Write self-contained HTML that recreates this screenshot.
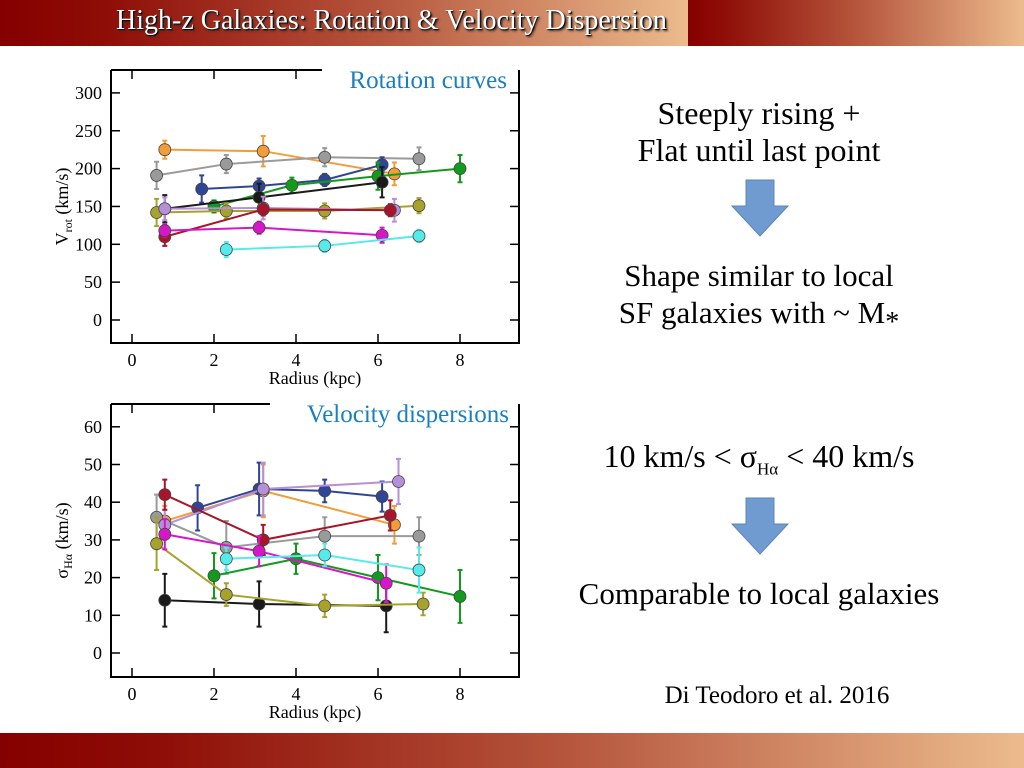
<!DOCTYPE html>
<html><head><meta charset="utf-8"><style>
body{margin:0;width:1024px;height:768px;overflow:hidden;background:#fff;font-family:"Liberation Serif",serif;position:relative}
.hdr{position:absolute;top:0;height:46px}
.t{position:absolute;color:#000;font-size:32px;text-align:center;line-height:37px}
</style></head><body>
<div class="hdr" style="left:0;width:688px;background:linear-gradient(90deg,#850000 0%,#8e0d06 15%,#b5553c 55%,#ecbb8d 100%)"></div>
<div class="hdr" style="left:688px;width:336px;background:linear-gradient(90deg,#850000 0%,#8e0d06 10%,#b5553c 50%,#ecbb8d 100%)"></div>
<div style="position:absolute;left:116px;top:5px;font-size:28px;color:#fff;text-shadow:1px 1px 1px #000,2px 2px 2px #333">High-z Galaxies: Rotation &amp; Velocity Dispersion</div>
<div style="position:absolute;left:0;top:733px;width:1024px;height:35px;background:linear-gradient(90deg,#850000 0%,#8e0d06 15%,#b5553c 55%,#ecbb8d 100%)"></div>

<div class="t" style="left:554px;top:95px;width:410px">Steeply rising +<br>Flat until last point</div>
<div class="t" style="left:554px;top:257px;width:410px;font-size:31px">Shape similar to local<br>SF galaxies with ~ M<sub style="font-size:28px;vertical-align:-8px;line-height:0">*</sub></div>
<div class="t" style="left:554px;top:438px;width:410px;font-size:32px">10 km/s &lt; σ<sub style="font-size:17px;line-height:0">Hα</sub> &lt; 40 km/s</div>
<div class="t" style="left:554px;top:575px;width:410px;font-size:31px">Comparable to local galaxies</div>
<div class="t" style="left:572px;top:677px;width:410px;font-size:25px">Di Teodoro et al. 2016</div>

<svg width="1024" height="768" style="position:absolute;left:0;top:0" xmlns="http://www.w3.org/2000/svg">
<polygon points="746,180 774,180 774,206 788,206 760,236 732,206 746,206" fill="#6f9bd1" stroke="#5a86bd"/>
<polygon points="746,498 774,498 774,524 788,524 760,554 732,524 746,524" fill="#6f9bd1" stroke="#5a86bd"/>
<g id="top"></g>
<g id="bot"></g>
</svg>
<script>
const colors=['#f29d38','#9a9a9a','#2f4595','#139a1c','#1a1a1a','#a6a22c','#b58fd8','#a8152a','#d617c8','#55ebeb'];
const names=['orange','gray','navy','green','black','olive','purple','darkred','magenta','cyan'];
// Rotation curves: radius (kpc) and Vrot (km/s)
const rotR=[[0.8,3.2,6.4],[0.6,2.3,4.7,7.0],[1.7,3.1,4.7,6.1],[2.0,3.9,6.0,8.0],[0.8,3.1,6.1],[0.6,2.3,4.7,7.0],[0.8,3.2,6.4],[0.8,3.2,6.3],[0.8,3.1,6.1],[2.3,4.7,7.0]];
const rotV=[[225,223,193],[191,206,215,213],[173,177,185,205],[150,178,190,200],[147,162,182],[142,144,144,151],[147,148,145],[110,146,145],[118,122,112],[93,98,111]];
const rotE=[[12,20,15],[18,12,12,15],[18,10,8,10],[8,10,18,18],[18,18,20],[18,10,10,10],[15,15,15],[12,8,8],[8,8,10],[10,8,8]];
// Velocity dispersions
const dispR=[[0.8,3.2,6.4],[0.6,2.3,4.7,7.0],[1.6,3.1,4.7,6.1],[2.0,4.0,6.0,8.0],[0.8,3.1,6.2],[0.6,2.3,4.7,7.1],[0.8,3.2,6.5],[0.8,3.2,6.3],[0.8,3.1,6.2],[2.3,4.7,7.0]];
const dispS=[[35,43,34],[36,28,31,31],[38.5,43.5,43,41.5],[20.5,25,20,15],[14,13,12.5],[29,15.5,12.5,13],[34,43.5,45.5],[42,30,36.5],[31.5,27,18.5],[25,26,22]];
const dispE=[[4,7,5],[6,7,5,5],[6,7,3,4],[6,4,6,7],[7,6,7],[7,3,3,3],[4,7,6],[4,4,4],[4,4,5],[3,3,6]];
const xTicks=[0,2,4,6,8];
const rotTicks=[0,50,100,150,200,250,300];
const dispTicks=[0,10,20,30,40,50,60];
const NS='http://www.w3.org/2000/svg';
function mk(p,tag,a){const e=document.createElementNS(NS,tag);for(const k in a)e.setAttribute(k,a[k]);p.appendChild(e);return e;}
function chart(g,cfg){
  const X=v=>132+v*41, Y=v=>cfg.y0-(v-cfg.v0)*cfg.k;
  const L=111,R=519,T=cfg.top,B=cfg.bot;
  let e=mk(g,'path',{d:`M${L},${T}H${cfg.titleL}M${L},${T}V${B}H${R}V${T}`,fill:'none',stroke:'#000','stroke-width':2});
  
  xTicks.forEach(t=>{
    e=mk(g,'line',{x1:X(t),x2:X(t),y1:B,y2:B-9,stroke:'#000','stroke-width':1.5});
    if(X(t)<cfg.titleL){e=mk(g,'line',{x1:X(t),x2:X(t),y1:T,y2:T+9,stroke:'#000','stroke-width':1.5});}
    e=mk(g,'text',{x:X(t),y:B+23,'text-anchor':'middle','font-size':18,'font-family':'Liberation Serif'});e.textContent=t;
    
  });
  cfg.ticks.forEach(t=>{
    e=mk(g,'line',{x1:L,x2:L+9,y1:Y(t),y2:Y(t),stroke:'#000','stroke-width':1.5});
    e=mk(g,'line',{x1:R,x2:R-9,y1:Y(t),y2:Y(t),stroke:'#000','stroke-width':1.5});
    e=mk(g,'text',{x:102,y:Y(t)+6,'text-anchor':'end','font-size':18,'font-family':'Liberation Serif'});e.textContent=t;
    
  });
  e=mk(g,'text',{x:315,y:B+41,'text-anchor':'middle','font-size':18,'font-family':'Liberation Serif'});e.textContent='Radius (kpc)';
  
  e=mk(g,'text',{x:cfg.titleX,y:T+18,'text-anchor':'end','font-size':25,fill:'#1a7fc0','font-family':'Liberation Serif'});e.textContent=cfg.title;
  
  e=mk(g,'text',{transform:`translate(68,${(T+B)/2}) rotate(-90)`,'text-anchor':'middle','font-size':18,'font-family':'Liberation Serif'});
  e.innerHTML=cfg.ylab;
  cfg.R.forEach((rs,i)=>{
    const s=mk(g,'g',{});
    const c=colors[i];
    e=mk(s,'polyline',{points:rs.map((r,j)=>X(r)+','+Y(cfg.V[i][j])).join(' '),fill:'none',stroke:c,'stroke-width':2});
    
    rs.forEach((r,j)=>{
      const v=cfg.V[i][j],er=cfg.E[i][j];
      e=mk(s,'path',{d:`M${X(r)},${Y(v-er)}V${Y(v+er)}M${X(r)-2.5},${Y(v-er)}h5M${X(r)-2.5},${Y(v+er)}h5`,stroke:c,'stroke-width':2});
      
    });
    rs.forEach((r,j)=>{
      e=mk(s,'circle',{cx:X(r),cy:Y(cfg.V[i][j]),r:6,fill:c,stroke:'#444','stroke-width':0.8});
      
    });
  });
}
chart(document.getElementById('top'),{top:70,bot:343,y0:320,v0:0,k:0.757,ticks:rotTicks,R:rotR,V:rotV,E:rotE,title:'Rotation curves',titleX:507,titleL:322,ylab:'V<tspan font-size="12" dy="4">rot</tspan><tspan dy="-4"> (km/s)</tspan>'});
chart(document.getElementById('bot'),{top:404,bot:677,y0:653,v0:0,k:3.77,ticks:dispTicks,R:dispR,V:dispS,E:dispE,title:'Velocity dispersions',titleX:509,titleL:270,ylab:'σ<tspan font-size="12" dy="4">Hα</tspan><tspan dy="-4"> (km/s)</tspan>'});
</script>
</body></html>
